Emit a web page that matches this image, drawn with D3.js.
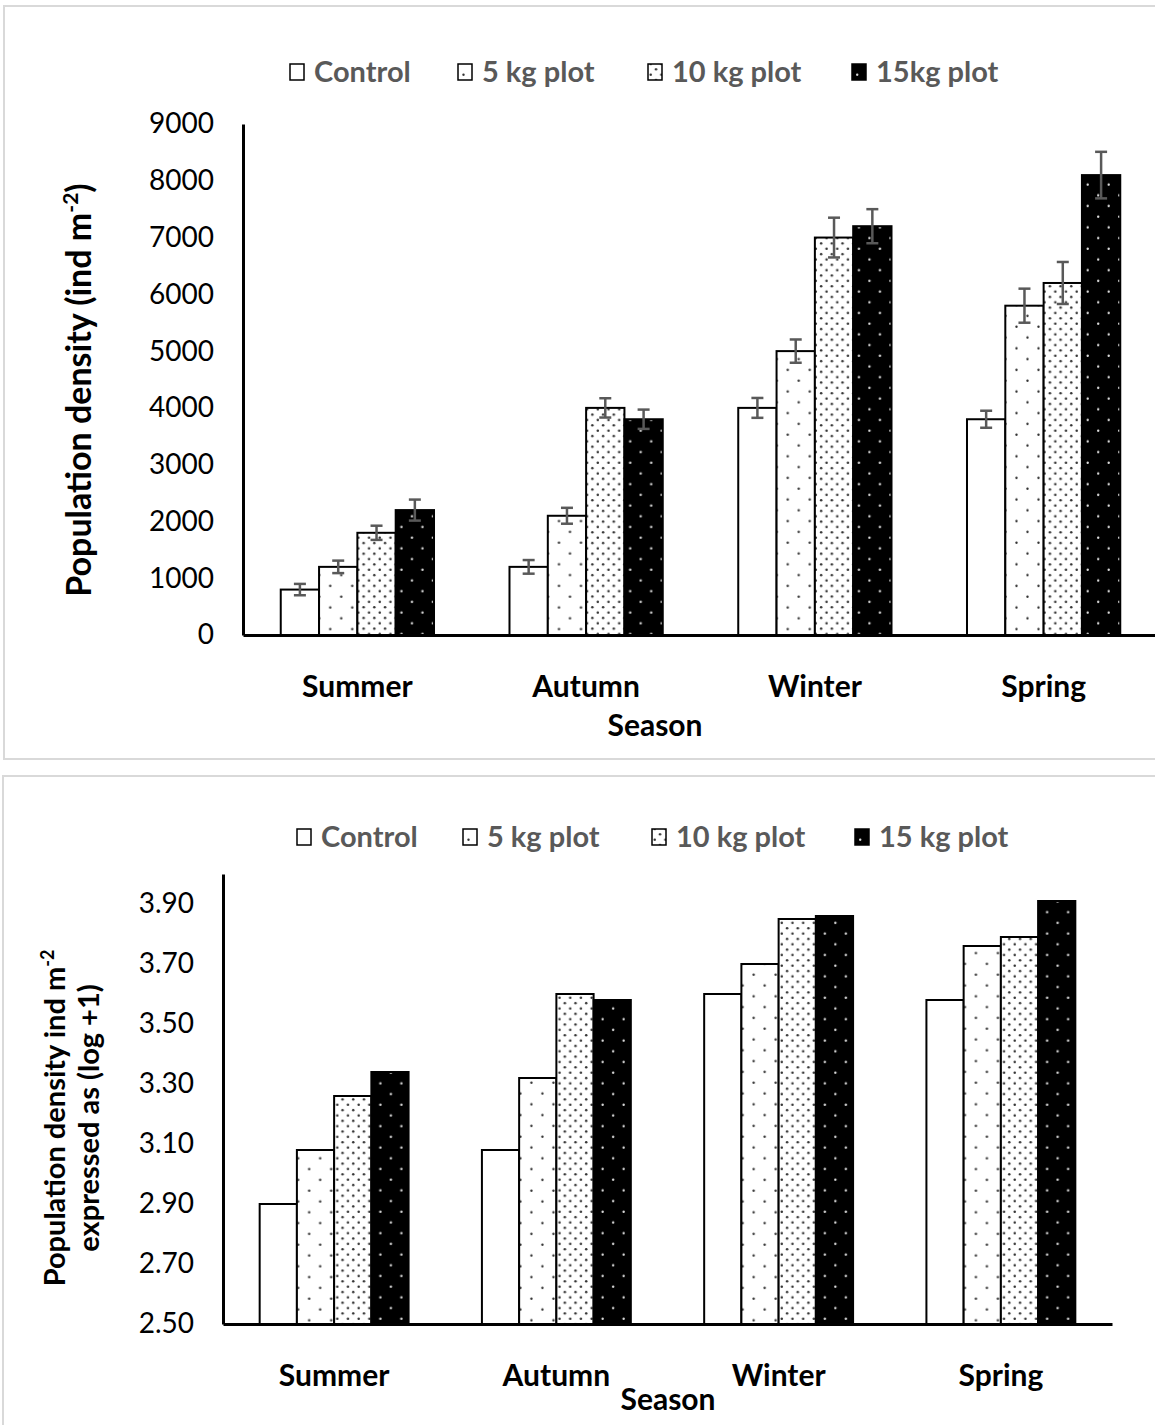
<!DOCTYPE html>
<html lang="en">
<head>
<meta charset="UTF-8">
<title>Population density by season</title>
<script src="https://d3js.org/d3.v7.min.js"></script>
<style>
    body { margin: 0; background: #fff; }
    svg { display: block; font-family: Lato, "Open Sans", sans-serif; }
</style>
</head>
<body>
<div id="chart"></div>
<script>
// data
const seasons = ["Summer", "Autumn", "Winter", "Spring"];
const treatmentsTop = ["Control", "5 kg plot", "10 kg plot", "15kg plot"];
const treatmentsBottom = ["Control", "5 kg plot", "10 kg plot", "15 kg plot"];

// rows = season, cols = treatment
const densityValues = [
    [800, 1200, 1800, 2200],
    [1200, 2100, 4000, 3800],
    [4000, 5000, 7000, 7200],
    [3800, 5800, 6200, 8100]
];
const densityErrors = [
    [100, 110, 125, 185],
    [120, 140, 170, 170],
    [175, 205, 350, 300],
    [150, 300, 370, 410]
];
const logValues = [
    [2.90, 3.08, 3.26, 3.34],
    [3.08, 3.32, 3.60, 3.58],
    [3.60, 3.70, 3.85, 3.86],
    [3.58, 3.76, 3.79, 3.91]
];
const densityTicks = [0, 1000, 2000, 3000, 4000, 5000, 6000, 7000, 8000, 9000];
const logTicks = [2.5, 2.7, 2.9, 3.1, 3.3, 3.5, 3.7, 3.9];

const W = 1155, H = 1425;
const fills = ["#fff", "url(#p5)", "url(#p10)", "url(#p15)"];

const svg = d3.select("#chart").append("svg")
    .attr("width", W)
    .attr("height", H);

// fill patterns
const defs = svg.append("defs");
function dotPattern(id, w, h, bg, dot, pts, r) {
    const p = defs.append("pattern")
        .attr("id", id)
        .attr("patternUnits", "userSpaceOnUse")
        .attr("width", w)
        .attr("height", h);
    p.append("rect").attr("width", w).attr("height", h).attr("fill", bg);
    pts.forEach(d => p.append("circle").attr("cx", d[0]).attr("cy", d[1]).attr("r", r).attr("fill", dot));
}
dotPattern("p5", 22, 21.6, "#fff", "#333", [[5.5, 2.7], [16.5, 13.5]], 1.2);
dotPattern("p10", 10.7, 10.7, "#fff", "#333", [[2.7, 2.7], [8, 8]], 1.25);
dotPattern("p15", 21, 21.4, "#000", "#ddd", [[5.2, 2.7], [15.7, 13.4]], 1.2);

// panel frames
svg.append("rect").attr("x", 4).attr("y", 6).attr("width", W + 10).attr("height", 753)
    .attr("fill", "none").attr("stroke", "#d9d9d9").attr("stroke-width", 2);
svg.append("rect").attr("x", 3).attr("y", 776).attr("width", W + 10).attr("height", H)
    .attr("fill", "none").attr("stroke", "#d9d9d9").attr("stroke-width", 2);

function drawPanel(cfg) {
    const g = svg.append("g");

    const x = d3.scaleBand()
        .domain(seasons)
        .range([cfg.left, cfg.right])
        .paddingInner(0.33)
        .paddingOuter(0.165);
    const x1 = d3.scaleBand()
        .domain(d3.range(4))
        .range([0, x.bandwidth()]);
    const y = d3.scaleLinear()
        .domain(cfg.domain)
        .range([cfg.bottom, cfg.top]);

    // bars
    const grp = g.selectAll(".season")
        .data(seasons)
        .join("g")
        .attr("transform", d => `translate(${x(d)},0)`);

    grp.selectAll("rect")
        .data((d, i) => cfg.values[i].map((v, j) => ({ v, j, i })))
        .join("rect")
        .attr("x", d => x1(d.j))
        .attr("y", d => y(d.v))
        .attr("width", x1.bandwidth())
        .attr("height", d => y(cfg.domain[0]) - y(d.v))
        .attr("fill", d => fills[d.j])
        .attr("stroke", "#000")
        .attr("stroke-width", 2);

    // error bars
    if (cfg.errors) {
        const eb = grp.selectAll(".err")
            .data((d, i) => cfg.values[i].map((v, j) => ({ v, e: cfg.errors[i][j], j })))
            .join("g")
            .attr("class", "err")
            .attr("stroke", "#595959")
            .attr("stroke-width", 2.5);
        const cx = d => x1(d.j) + x1.bandwidth() / 2;
        eb.append("line")
            .attr("x1", cx).attr("x2", cx)
            .attr("y1", d => y(d.v + d.e)).attr("y2", d => y(d.v - d.e));
        eb.append("line")
            .attr("x1", d => cx(d) - 6).attr("x2", d => cx(d) + 6)
            .attr("y1", d => y(d.v + d.e)).attr("y2", d => y(d.v + d.e));
        eb.append("line")
            .attr("x1", d => cx(d) - 6).attr("x2", d => cx(d) + 6)
            .attr("y1", d => y(d.v - d.e)).attr("y2", d => y(d.v - d.e));
    }

    // y axis
    const yAxis = g.append("g")
        .attr("transform", `translate(${cfg.left},0)`)
        .call(d3.axisLeft(y).tickValues(cfg.ticks).tickSize(0).tickSizeOuter(0).tickPadding(29)
            .tickFormat(cfg.fmt));
    yAxis.select(".domain").attr("stroke", "#000").attr("stroke-width", 3);
    yAxis.selectAll("text").attr("font-size", 28).attr("fill", "#000")
        .attr("font-family", "Lato, 'Open Sans', sans-serif");

    // x axis
    const xAxis = g.append("g")
        .attr("transform", `translate(0,${cfg.bottom})`)
        .call(d3.axisBottom(x).tickSize(0).tickSizeOuter(0).tickPadding(41));
    xAxis.select(".domain").attr("stroke", "#000").attr("stroke-width", 3);
    xAxis.selectAll("text").attr("font-size", 30).attr("font-weight", "bold").attr("fill", "#000")
        .attr("font-family", "Lato, 'Open Sans', sans-serif");

    g.append("text")
        .attr("x", cfg.seasonX).attr("y", cfg.bottom + cfg.seasonDy)
        .attr("text-anchor", "middle")
        .attr("font-size", 30).attr("font-weight", "bold")
        .text("Season");

    // legend
    const leg = g.selectAll(".leg")
        .data(cfg.labels)
        .join("g")
        .attr("transform", (d, i) => `translate(${cfg.legendX[i]},${cfg.legendY})`);
    leg.append("rect")
        .attr("x", 0).attr("y", -8).attr("width", 14).attr("height", 16)
        .attr("fill", (d, i) => fills[i])
        .attr("stroke", "#000").attr("stroke-width", 1.5);
    leg.append("text")
        .attr("x", 24).attr("y", 10)
        .attr("font-size", 29).attr("font-weight", "bold").attr("fill", "#595959")
        .text(d => d);
}

drawPanel({
    left: 243, right: 1158, top: 124, bottom: 635,
    domain: [0, 9000], ticks: densityTicks, fmt: d3.format("d"),
    values: densityValues, errors: densityErrors,
    labels: treatmentsTop, legendX: [290, 458, 648, 852], legendY: 72,
    seasonX: 655, seasonDy: 101
});

drawPanel({
    left: 223, right: 1112, top: 874, bottom: 1324,
    domain: [2.5, 4.0], ticks: logTicks, fmt: d3.format(".2f"),
    values: logValues, errors: null,
    labels: treatmentsBottom, legendX: [297, 463, 652, 855], legendY: 837,
    seasonX: 668, seasonDy: 86
});

// y titles
const t1 = svg.append("text")
    .attr("transform", "translate(91,390) rotate(-90)")
    .attr("text-anchor", "middle")
    .attr("font-size", 34).attr("font-weight", "bold");
t1.append("tspan").text("Population density (ind m");
t1.append("tspan").attr("font-size", 21).attr("dy", -13).text("-2");
t1.append("tspan").attr("dy", 13).text(")");

const t2 = svg.append("text")
    .attr("transform", "translate(0,1118) rotate(-90)")
    .attr("text-anchor", "middle")
    .attr("font-size", 29).attr("font-weight", "bold");
t2.append("tspan").attr("x", 0).attr("y", 65).text("Population density ind m");
t2.append("tspan").attr("font-size", 18).attr("dy", -11).text("-2");
t2.append("tspan").attr("x", 0).attr("y", 99).text("expressed as (log +1)");
</script>
</body>
</html>
